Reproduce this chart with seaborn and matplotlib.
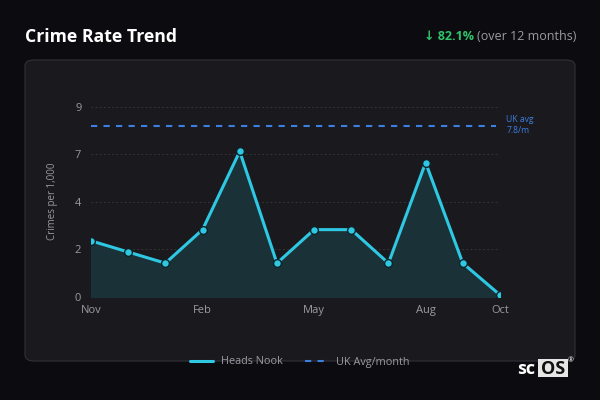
import numpy as np
import pandas as pd
import matplotlib
matplotlib.use("Agg")
import matplotlib.pyplot as plt
import seaborn as sns
from matplotlib.patches import FancyBboxPatch, Rectangle
from matplotlib.lines import Line2D

months = ["Nov", "Dec", "Jan", "Feb", "Mar", "Apr", "May", "Jun", "Jul", "Aug", "Sep", "Oct"]
rate = [2.55, 2.04, 1.53, 3.06, 6.63, 1.53, 3.06, 3.06, 1.53, 6.12, 1.53, 0.08]
uk_avg = 7.8
y_max = 8.67
tick_months = ["Nov", "Feb", "May", "Aug", "Oct"]
change_text = "82.1%"

BG = "#0c0b10"
PANEL = "#1a191e"
CYAN = "#2ec8e3"
BLUE = "#3d7fe0"
GREY = "#9a9aa0"

sns.set_theme(style="dark")
plt.rcParams["font.family"] = ["Open Sans", "DejaVu Sans"]

df = pd.DataFrame({"idx": np.arange(len(months)), "month": months, "rate": rate})

fig = plt.figure(figsize=(6, 4), dpi=100, facecolor=BG)

# card behind the chart
card = FancyBboxPatch((25 / 600, 39 / 400), 550 / 600, 301 / 400,
                      boxstyle="round,pad=0,rounding_size=0.015",
                      transform=fig.transFigure, facecolor=PANEL,
                      edgecolor="#323238", linewidth=0.8, zorder=-5)
fig.patches.append(card)

ax = fig.add_axes([91 / 600, 1 - 296.7 / 400, 409 / 600, 190 / 400])
ax.set_facecolor("none")
ax.set_zorder(2)

ax.fill_between(df["idx"], df["rate"], 0, color="#1b343b", alpha=0.9, zorder=1)
sns.lineplot(data=df, x="idx", y="rate", ax=ax, color=CYAN, linewidth=2.2,
             marker="o", markersize=5.6, markeredgecolor="#0e2228",
             markeredgewidth=1.0, zorder=3)
ax.axhline(uk_avg, xmin=0, xmax=0.99, color=BLUE, linestyle=(0, (3, 3)),
           linewidth=1.5, zorder=2)
ax.text(1.015, uk_avg + 0.28, "UK avg", transform=ax.get_yaxis_transform(),
        color=BLUE, fontsize=6.2, va="center", ha="left")
ax.text(1.015, uk_avg - 0.22, "7.8/m", transform=ax.get_yaxis_transform(),
        color=BLUE, fontsize=6.2, va="center", ha="left")

ax.set_xlim(0, len(months) - 1)
ax.set_ylim(0, y_max)
yt = np.linspace(0, y_max, 5)
ax.set_yticks(yt)
ax.set_yticklabels([str(int(np.floor(v + 0.5))) for v in yt])
ax.set_xticks([months.index(m) for m in tick_months])
ax.set_xticklabels(tick_months)
for v in yt[1:]:
    ax.axhline(v, color="#3a3a40", linestyle=(0, (2, 3)), linewidth=0.6, zorder=0)
ax.grid(False)
for s in ax.spines.values():
    s.set_visible(False)
ax.tick_params(axis="y", colors=GREY, labelsize=8, length=3, width=0.8,
               color="#555", pad=4)
ax.tick_params(axis="x", colors=GREY, labelsize=8, length=0, pad=6)
ax.set_xlabel("")
ax.set_ylabel("Crimes per 1,000", color=GREY, fontsize=7, labelpad=12)

# title and change text
fig.text(25 / 600, 1 - 37 / 400, "Crime Rate Trend", color="white",
         fontsize=12.7, fontweight="bold", va="center", ha="left")
t1 = fig.text(576 / 600, 1 - 37 / 400, "(over 12 months)", color=GREY,
              fontsize=9, va="center", ha="right")
fig.canvas.draw()
bb = t1.get_window_extent()
fig.text(bb.x0 / 600 - 0.004, 1 - 37 / 400, "\u2193 " + change_text,
         color="#2ec46a", fontsize=9, fontweight="bold", va="center", ha="right")

# legend
handles = [Line2D([], [], color=CYAN, linewidth=2.2),
           Line2D([], [], color=BLUE, linewidth=1.5, linestyle=(0, (3, 3)))]
leg = fig.legend(handles, ["Heads Nook", "UK Avg/month"], loc="center",
                 bbox_to_anchor=(300 / 600, 1 - 362 / 400), ncol=2, frameon=False,
                 fontsize=7.8, handlelength=2.1, columnspacing=2.0)
for t in leg.get_texts():
    t.set_color(GREY)

# scOS badge
fig.text(517 / 600, 1 - 369 / 400, "sc", color="white", fontsize=13,
         fontweight="bold", va="center", ha="left")
fig.patches.append(Rectangle((538 / 600, 1 - 377 / 400), 30 / 600, 18 / 400,
                             transform=fig.transFigure, facecolor="#e6e6e6",
                             edgecolor="none"))
fig.text(553 / 600, 1 - 368.5 / 400, "OS", color="#111", fontsize=13,
         fontweight="bold", va="center", ha="center")
fig.text(571 / 600, 1 - 361 / 400, "\u00ae", color="white", fontsize=5,
         va="center", ha="center")

fig.savefig("out.png", dpi=100, facecolor=BG)
